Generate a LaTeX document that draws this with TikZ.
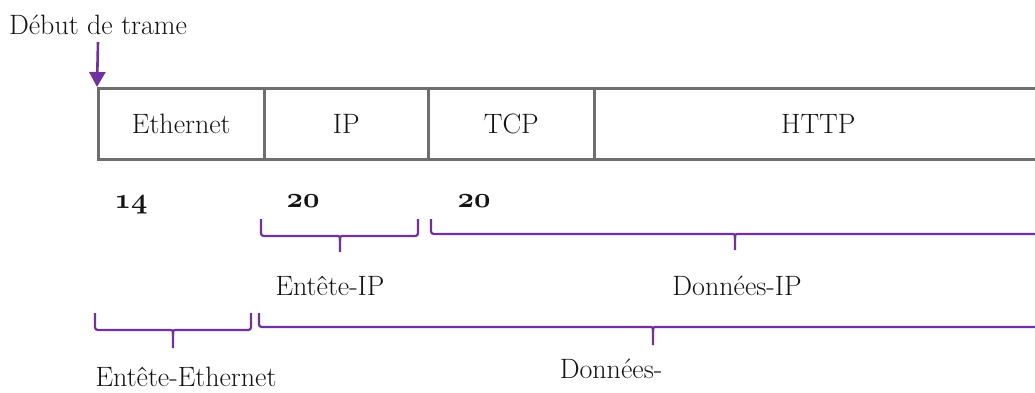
\documentclass[tikz,border=0pt]{standalone}
\usepackage{fontspec}
\usepackage{graphicx}
\usetikzlibrary{arrows.meta}
\definecolor{brpurple}{HTML}{7030A0}
\definecolor{boxgray}{HTML}{6E6E6E}
\definecolor{txt}{HTML}{141414}
\newcommand{\osnum}[1]{\scalebox{1.15}{\fontencoding{OML}\fontfamily{cmm}\fontseries{b}\fontshape{it}\fontsize{24.88}{30}\selectfont #1}}
\tikzset{
  cell/.style={draw=boxgray, line width=2.6pt, minimum height=71pt, inner sep=0pt, anchor=north west, text=txt, font=\fontsize{28}{32}\selectfont},
  lbl/.style={inner sep=0pt, text=txt, font=\fontsize{28}{32}\selectfont},
  num/.style={inner sep=0pt, text=txt},
  bracepath/.style={draw=brpurple, line width=2.2pt, line join=round},
  startarrow/.style={draw=brpurple, line width=2.6pt, -{Triangle[width=16pt,length=15pt]}}
}
\newcommand{\mybrace}[6]{% x1 x2 xtip ytop yline ytip
  \path[bracepath] (#1,#4) -- (#1,#5-6) .. controls (#1,#5) .. (#1+6,#5) -- (#3-4,#5) .. controls (#3,#5) .. (#3,#5+5) -- (#3,#6);
  \path[bracepath] (#3,#5+5) .. controls (#3,#5) .. (#3+4,#5) -- (#2-6,#5) .. controls (#2,#5) .. (#2,#5-6) -- (#2,#4);
}
\begin{document}
\begin{tikzpicture}[x=1pt,y=-1pt]
\useasboundingbox (0,0) rectangle (1035,392);
\clip (0,0) rectangle (1035,392);
\fill[white] (0,0) rectangle (1035,392);

% title and arrow
\node[lbl] (title) at (98,25) {Début de trame};
\coordinate (arrtop) at (98,42);

% frame cells
\node[cell, minimum width=166pt] (eth) at (97,87) {\raisebox{-6pt}{Ethernet}};
\node[cell, minimum width=164pt] (ip) at (263,87) {\raisebox{-6pt}{IP}};
\node[cell, minimum width=166pt] (tcp) at (427,87) {\raisebox{-6pt}{TCP}};
\node[cell, minimum width=448pt] (http) at (593,87) {\raisebox{-6pt}{HTTP}};

\draw[startarrow] (arrtop) -- (eth.north west);

% sizes
\node[num] (n14) at (131,205) {\osnum{14}};
\node[num] (n20a) at (303,201) {\osnum{20}};
\node[num] (n20b) at (474,201) {\osnum{20}};

% braces level 1
\mybrace{261}{418}{340}{219}{236}{252}
\mybrace{431}{1060}{735}{219}{234}{250}
\node[lbl] (entip) at (330,286) {Entête-IP};
\node[lbl] (donip) at (737,286) {Données-IP};

% braces level 2
\mybrace{95}{251}{173}{313}{330}{348}
\mybrace{259}{1060}{653}{313}{327}{345}
\node[lbl] (entethr) at (186,377) {Entête-Ethernet};
\node[lbl] (don) at (611,369) {Données-};
\end{tikzpicture}
\end{document}
